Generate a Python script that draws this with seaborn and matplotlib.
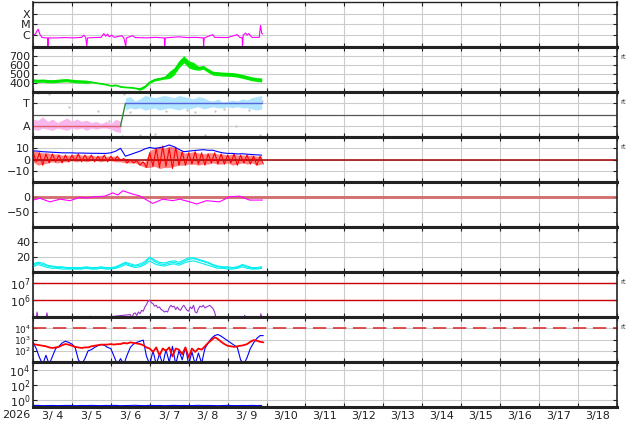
import numpy as np
import matplotlib
matplotlib.use("Agg")
import matplotlib.pyplot as plt
from matplotlib.ticker import NullLocator
import seaborn as sns

# time axis: hours since 2026-03-04 00:00
t3 = np.arange(0, 142, 3)
t2 = np.arange(0, 143, 2)
day_labels = ["3/ 4", "3/ 5", "3/ 6", "3/ 7", "3/ 8", "3/ 9", "3/10", "3/11",
              "3/12", "3/13", "3/14", "3/15", "3/16", "3/17", "3/18"]

# X-ray flux (log10 W/m2)
xray_h = [0, 1.5, 2.5, 3.2, 4.2, 5.5, 8, 9.0, 9.2, 9.6, 15, 20, 25, 30, 31.4, 32.5, 33.2, 33.6,
          38, 42, 43.7, 44.8, 46, 47, 48.6, 50, 54.8, 56, 57.2, 57.6, 61.5, 63, 70, 75, 81, 81.2,
          81.6, 90, 95, 100, 105, 105.2, 105.6, 110.8, 112, 120, 126, 127.5, 129, 129.2, 129.6,
          131, 132, 133, 135, 139.5, 140.3, 141, 141.6]
xray_log = [-6.0, -5.9, -5.6, -5.45, -5.9, -6.2, -6.25, -6.25, -7.0, -6.25, -6.25, -6.22, -6.25,
            -6.2, -6.0, -6.2, -7.0, -6.25, -6.22, -6.2, -5.85, -6.1, -5.9, -6.15, -6.0, -6.2,
            -6.05, -6.25, -7.0, -6.25, -6.05, -6.22, -6.25, -6.2, -6.25, -7.0, -6.25, -6.15,
            -6.22, -6.2, -6.25, -7.0, -6.25, -5.95, -6.2, -6.22, -5.95, -6.2, -6.25, -7.0, -6.0,
            -5.8, -6.0, -5.85, -6.2, -6.2, -5.1, -5.8, -5.9]

# solar wind speed (km/s), 3-hourly band
speed_mid = [430, 425, 428, 422, 420, 425, 430, 432, 425, 420, 418, 415, 412, 402, 395, 385,
             372, 378, 360, 355, 352, 345, 335, 362, 412, 438, 448, 460, 490, 530, 610, 665,
             610, 590, 565, 575, 540, 510, 505, 500, 498, 495, 488, 475, 462, 448, 440, 435]
speed_hi = [448, 443, 446, 440, 438, 443, 448, 450, 443, 438, 436, 433, 420, 410, 403, 393,
            380, 386, 368, 363, 360, 353, 350, 377, 427, 453, 463, 475, 530, 570, 650, 705,
            650, 630, 587, 597, 562, 532, 527, 522, 520, 517, 510, 497, 484, 470, 462, 457]
speed_lo = [412, 407, 410, 404, 402, 407, 412, 414, 407, 402, 400, 397, 404, 394, 387, 377,
            364, 370, 352, 347, 344, 337, 320, 347, 397, 423, 433, 445, 450, 490, 570, 625,
            570, 550, 543, 553, 518, 488, 483, 478, 476, 473, 466, 453, 440, 426, 418, 413]

# IMF sector (A = -0.5, T = +0.5)
away_h = t3[:19]
away_hi = [-0.2, -0.25, -0.1, -0.3, -0.2, -0.35, -0.25, -0.15, -0.3, -0.2, -0.3, -0.25, -0.35,
           -0.3, -0.4, -0.3, -0.4, -0.2, -0.3]
away_lo = [-0.65, -0.7, -0.6, -0.65, -0.7, -0.6, -0.65, -0.7, -0.6, -0.65, -0.6, -0.7, -0.6,
           -0.65, -0.6, -0.6, -0.65, -0.75, -0.8]
toward_h = t3[19:]
toward_hi = [0.75, 0.8, 0.6, 0.7, 0.85, 0.8, 0.75, 0.8, 0.85, 0.8, 0.75, 0.85, 0.8, 0.75, 0.7,
             0.8, 0.75, 0.65, 0.6, 0.7, 0.55, 0.6, 0.65, 0.6, 0.7, 0.65, 0.75, 0.8, 0.85]
toward_lo = [0.2, 0.3, 0.25, 0.3, 0.2, 0.25, 0.3, 0.2, 0.25, 0.3, 0.25, 0.2, 0.3, 0.25, 0.3,
             0.35, 0.25, 0.3, 0.35, 0.3, 0.3, 0.35, 0.3, 0.35, 0.3, 0.3, 0.25, 0.2, 0.25]
grey_h = [3, 10, 22, 40, 47, 55, 56, 60, 66, 75, 82, 90, 95, 100, 106, 112, 118, 125, 133, 140, 141]
grey_v = [0.95, 0.9, 0.35, 0.15, -0.3, -0.95, 0.9, 0.1, -0.9, -0.85, 0.15, -0.95, 0.2, 0.1,
          -0.9, 0.15, 0.25, -0.5, 0.2, -0.9, 0.6]
sector_h = [0, 54, 57, 141]
sector_v = [-0.5, -0.5, 0.5, 0.5]

# IMF Bt (3-hourly) and Bz (2-hourly trace + 3-hourly envelope), nT
bt = [7.8, 7.5, 7, 6.8, 6.5, 6.3, 6, 6, 6, 5.8, 5.8, 5.7, 5.6, 5.6, 5.5, 5.5, 6, 7.5, 10, 3,
      4.5, 6, 7.5, 9.5, 10.8, 10, 10.5, 11.5, 13, 11.4, 9, 7, 7.5, 8, 8.4, 8.8, 8.3, 8.3, 7, 6,
      5.5, 5.5, 5, 5.2, 4.8, 4.5, 4.2, 4]
bz = [7, -2, 6, -5, 5, -3, 5, -2, 4, -3,
      4, -2, 4, -1, 5, -2, 4, -1, 4, -2,
      3, -1, 4, -2, 3, -1, 3, -1, 1, -3,
      0, -3, -1, -5, -2, -7, 6, -6, 10, -7,
      12, -6, 10, -8, 11, -5, 7, -5, 6, -4,
      7, -4, 6, -5, 5, -3, 6, -4, 5, -4,
      4, -3, 5, -5, 4, -3, 4, -4, 3, -5,
      3, -4]
bz_hi = [8, 7, 6, 6, 5, 5, 4, 4, 4, 5, 4, 4, 4, 3, 4, 3, 3, 3, 1, 1, 0, 0, -1, -2,
         8, 10, 12, 10, 12, 11, 8, 6, 6, 7, 6, 5, 6, 6, 5, 5, 4, 5, 4, 4, 4, 4, 3, 3]
bz_lo = [-2, -5, -4, -3, -2, -3, -2, -2, -1, -2, -1, -2, -1, -1, -2, -1, -1, -2, -2, -3, -3, -3,
         -5, -7, -7, -6, -8, -7, -7, -6, -5, -5, -4, -4, -5, -4, -4, -3, -4, -4, -3, -5, -4, -3,
         -4, -3, -5, -4]

# Dst (nT)
dst_h = [0, 4.3, 10.5, 16.6, 22.8, 28.9, 33, 38.2, 44.3, 49.2, 52.3, 55.4, 61.5, 65.8, 70.2,
         73.8, 80, 86.2, 90.5, 96.6, 100.9, 107, 115, 121.2, 127.4, 133.5, 141.5]
dst_v = [-10, -4, -16, -7, -12, -1, -3, 1, 3, 14, 7, 21, 10, 4, -10, -21, -7, -12, -7, -16,
         -23, -12, -16, 1, 3, -10, -10]

# index panel (three cyan traces)
cyan_a = [9, 12, 10, 8, 7, 6, 6, 5, 5, 5, 5, 6, 5, 5, 6, 5, 5, 6, 9, 12, 9, 8, 9, 12,
          19, 14, 11, 10, 12, 13, 11, 14, 17, 18, 16, 14, 12, 9, 7, 6, 6, 5, 6, 9, 7, 5, 5, 6]
cyan_b = [7, 10, 8, 6, 5, 5, 4, 4, 4, 4, 4, 5, 4, 4, 5, 4, 4, 5, 7, 10, 8, 6, 7, 10,
          15, 11, 9, 8, 10, 11, 9, 12, 14, 15, 13, 11, 9, 7, 5, 5, 4, 4, 5, 7, 5, 4, 4, 5]
cyan_c = [11, 13, 12, 9, 8, 7, 7, 6, 6, 6, 6, 7, 6, 6, 7, 6, 6, 7, 10, 13, 11, 9, 11, 14,
          20, 16, 13, 12, 14, 15, 13, 16, 19, 19, 17, 15, 13, 10, 8, 7, 7, 6, 7, 10, 8, 6, 6, 7]

# proton-type flux (log10)
prot_h = [0, 2, 2.5, 3.2, 8, 8.6, 9.3, 35, 35.5, 36] + list(range(60, 114)) + \
         [130, 130.5, 131, 140, 140.5, 141]
prot_log = [4.9, 4.9, 5.3, 4.9, 4.9, 5.25, 4.9, 4.9, 5.05, 4.9,
            5.15, 4.95, 5.2, 5.25, 5.1, 5.3, 5.2, 5.4, 5.35, 5.6, 5.75, 5.95, 6.0, 5.85, 5.8,
            5.65, 5.7, 5.55, 5.6, 5.45, 5.4, 5.3, 5.35, 5.3, 5.55, 5.7, 5.6, 5.65, 5.45, 5.6,
            5.45, 5.4, 5.6, 5.7, 5.55, 5.4, 5.35, 5.6, 5.5, 5.7, 5.3, 5.25, 5.5, 5.65, 5.6,
            5.7, 5.55, 5.6, 5.65, 5.7, 5.6, 5.5, 5.3, 4.9,
            4.9, 5.1, 4.9, 4.9, 5.2, 5.0]

# electron flux (log10), 2-hourly
elec_red = [2.6, 2.55, 2.5, 2.45, 2.4, 2.3, 2.25, 2.3, 2.35, 2.5,
            2.6, 2.55, 2.45, 2.35, 2.3, 2.25, 2.3, 2.3, 2.4, 2.45,
            2.5, 2.55, 2.55, 2.55, 2.6, 2.55, 2.6, 2.6, 2.7, 2.65,
            2.75, 2.7, 2.65, 2.6, 2.5, 2.3, 2.2, 1.9, 2.3, 1.6,
            2.2, 2.0, 2.3, 1.5, 2.2, 2.1, 1.7, 2.3, 1.4, 2.2,
            1.9, 2.2, 2.1, 2.4, 2.7, 2.95, 3.2, 3.05, 2.8, 2.6,
            2.45, 2.4, 2.35, 2.4, 2.45, 2.5, 2.6, 2.8, 2.95, 2.9,
            2.8, 2.75]
elec_blue = [2.75, 2.2, 1.4, 0.8, 1.6, 0.8, 1.5, 2.2, 2.4, 2.7,
             2.85, 2.75, 2.6, 2.3, 1.2, 0.8, 1.3, 2.0, 2.1, 2.3,
             2.45, 2.55, 2.5, 2.3, 2.2, 1.5, 0.8, 1.3, 0.8, 1.6,
             2.3, 2.6, 2.75, 2.85, 2.95, 1.5, 0.8, 2.0, 0.8, 1.7,
             0.8, 2.1, 1.0, 2.4, 0.8, 2.0, 1.2, 2.3, 0.8, 1.9,
             0.8, 1.8, 0.9, 2.2, 2.7, 3.1, 3.35, 3.45, 3.3, 3.1,
             2.9, 2.7, 2.5, 2.3, 1.2, 0.8, 1.4, 2.2, 2.7, 3.1,
             3.35, 3.35]

# bottom panel flux (log10)
low_flux = [-0.8, -0.78, -0.82, -0.8, -0.79, -0.81, -0.8, -0.78, -0.8, -0.82, -0.79, -0.8,
            -0.78, -0.8, -0.81, -0.79, -0.8, -0.78, -0.82, -0.8, -0.79, -0.77, -0.8, -0.81,
            -0.78, -0.8, -0.79, -0.82, -0.8, -0.78, -0.8, -0.79, -0.81, -0.8, -0.77, -0.8,
            -0.79, -0.8, -0.82, -0.8, -0.78, -0.8, -0.81, -0.79, -0.8, -0.78, -0.8, -0.79]

sns.set_theme(style="ticks")
plt.rcParams["font.family"] = ["DejaVu Sans"]

fig, axes = plt.subplots(9, 1, figsize=(6.34, 4.24), dpi=100, sharex=True)
fig.subplots_adjust(left=0.052, right=0.973, top=0.995, bottom=0.040, hspace=0)

lw = 0.8

# 1: X-ray
ax = axes[0]
sns.lineplot(x=xray_h, y=10 ** np.array(xray_log), ax=ax, color="#ff00ff", lw=lw,
             estimator=None)
ax.set_yscale("log")
ax.set_ylim(10 ** -7.1, 10 ** -2.95)
ax.set_yticks([1e-4, 1e-5, 1e-6], labels=["X", "M", "C"])

# 2: speed
ax = axes[1]
ax.fill_between(t3, speed_lo, speed_hi, color="#00ee00", lw=0)
sns.lineplot(x=t3, y=speed_mid, ax=ax, color="#00dd00", lw=lw, estimator=None)
ax.set_ylim(300, 800)
ax.set_yticks([400, 500, 600, 700])

# 3: sector
ax = axes[2]
ax.fill_between(away_h, away_lo, away_hi, color="#f8b8ee", lw=0)
ax.fill_between(toward_h, toward_lo, toward_hi, color="#b0e4ff", lw=0)
ax.scatter(grey_h, grey_v, s=3, color="#c8c8c8", lw=0)
ax.axhline(0, color="#555555", lw=0.9)
sns.lineplot(x=sector_h[:2], y=sector_v[:2], ax=ax, color="#e06070", lw=1.0, estimator=None)
sns.lineplot(x=sector_h[1:3], y=sector_v[1:3], ax=ax, color="#338833", lw=1.0, estimator=None)
sns.lineplot(x=sector_h[2:], y=sector_v[2:], ax=ax, color="#5566dd", lw=1.0, estimator=None)
ax.set_ylim(-1, 1)
ax.set_yticks([0.5, -0.5], labels=["T", "A"])

# 4: Bt / Bz
ax = axes[3]
ax.axhline(0, color="#a00000", lw=1.1)
ax.fill_between(t3, bz_lo, bz_hi, color="#ff2020", lw=0, alpha=0.55)
sns.lineplot(x=t2, y=bz, ax=ax, color="#ff0000", lw=lw, estimator=None)
sns.lineplot(x=t3, y=bt, ax=ax, color="#0000ff", lw=lw, estimator=None)
ax.set_ylim(-20, 20)
ax.set_yticks([10, 0, -10])

# 5: Dst
ax = axes[4]
ax.axhline(0, color="#d06060", lw=2.2, alpha=0.85)
sns.lineplot(x=dst_h, y=dst_v, ax=ax, color="#ff00ff", lw=lw, estimator=None)
ax.set_ylim(-100, 50)
ax.set_yticks([0, -50])

# 6: index
ax = axes[5]
for vals in (cyan_a, cyan_b, cyan_c):
    sns.lineplot(x=t3, y=vals, ax=ax, color="#00f0f0", lw=lw, estimator=None)
ax.set_ylim(0, 60)
ax.set_yticks([40, 20])

# 7: proton flux
ax = axes[6]
ax.axhline(1e7, color="#cc0000", lw=1.0)
ax.axhline(1e6, color="#cc0000", lw=1.0)
sns.lineplot(x=prot_h, y=10 ** np.array(prot_log), ax=ax, color="#9933cc", lw=lw,
             estimator=None)
ax.set_yscale("log")
ax.set_ylim(1e5, 10 ** 7.68)
ax.set_yticks([1e7, 1e6], labels=["$10^7$", "$10^6$"])

# 8: electron flux
ax = axes[7]
ax.axhline(1e4, color="#dd3333", lw=1.2, dashes=(8, 4))
sns.lineplot(x=t2, y=10 ** np.array(elec_blue), ax=ax, color="#0000ff", lw=lw, estimator=None)
sns.lineplot(x=t2, y=10 ** np.array(elec_red), ax=ax, color="#ff0000", lw=1.3, estimator=None)
ax.set_yscale("log")
ax.set_ylim(10, 1e5)
ax.set_yticks([1e4, 1e3, 1e2], labels=["$10^4$", "$10^3$", "$10^2$"])

# 9: low flux
ax = axes[8]
sns.lineplot(x=t3, y=10 ** np.array(low_flux), ax=ax, color="#0000ff", lw=lw, estimator=None)
ax.set_yscale("log")
ax.set_ylim(0.1, 1e5)
ax.set_yticks([1e4, 1e2, 1], labels=["$10^4$", "$10^2$", "$10^0$"])

bottom = axes[-1]
bottom.set_xlim(0, 360)
bottom.set_xticks(np.arange(0, 361, 24), labels=[""] * 16)
bottom.set_xticks(np.arange(12, 360, 24), labels=day_labels, minor=True)

for i, ax in enumerate(axes):
    ax.set_xlabel("")
    ax.set_ylabel("")
    ax.yaxis.set_minor_locator(NullLocator())
    ax.xaxis.grid(True, which="major", color="#cccccc", lw=0.8)
    ax.xaxis.grid(False, which="minor")
    ax.yaxis.grid(True, which="major", color="#cccccc", lw=0.8)
    ax.set_axisbelow(True)
    ax.tick_params(axis="both", which="major", direction="in", length=3, width=0.8,
                   top=True, right=True, labelsize=8, pad=2, colors="#222222")
    ax.tick_params(axis="x", which="minor", length=0, labelsize=8, pad=3,
                   colors="#222222")
    for s in ax.spines.values():
        s.set_color("#222222")
        s.set_linewidth(1.2)
    ax.spines["top"].set_linewidth(1.0 if i == 0 else 2.2)
    ax.spines["bottom"].set_linewidth(2.2)

axes[7].tick_params(axis="y", labelsize=6.5, pad=1.5)

bottom.text(-0.029, -0.075, "2026", transform=bottom.transAxes, ha="center", va="top",
            fontsize=8, color="#222222")

for i in (1, 2, 3, 6, 7):
    axes[i].text(1.006, 0.78, "rt", transform=axes[i].transAxes, fontsize=5,
                 color="#444444", ha="left", va="center")

fig.savefig("out.png", dpi=100)
